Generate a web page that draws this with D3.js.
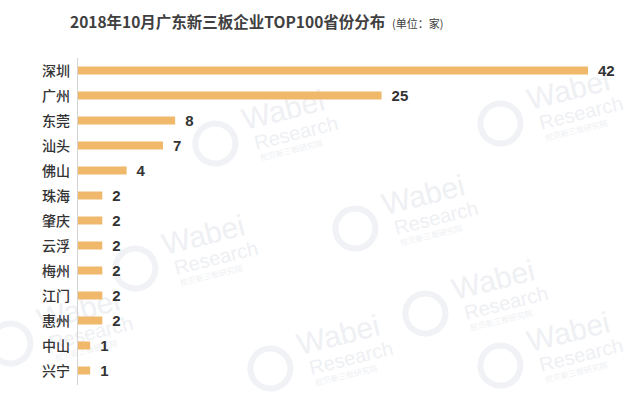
<!DOCTYPE html>
<html>
<head>
<meta charset="utf-8">
<script src="https://cdn.jsdelivr.net/npm/d3@7"></script>
<style>
  body { margin: 0; background: #fff; }
  svg { display: block; font-family: "Noto Sans CJK SC", "Microsoft YaHei", sans-serif; }
</style>
</head>
<body>
<svg width="640" height="399"></svg>
<script>
// data
var cities = ["深圳", "广州", "东莞", "汕头", "佛山", "珠海", "肇庆", "云浮", "梅州", "江门", "惠州", "中山", "兴宁"];
var counts = [42, 25, 8, 7, 4, 2, 2, 2, 2, 2, 2, 1, 1];

var svg = d3.select("svg"),
    width = +svg.attr("width"),
    height = +svg.attr("height");

// faint watermark tiles
var marks = [[245, 130], [385, 215], [165, 255], [455, 300], [530, 110], [300, 355], [530, 352], [40, 330]];
var wm = svg.append("g").attr("class", "watermark");
marks.forEach(function (p) {
    var g = wm.append("g").attr("transform", "translate(" + p[0] + "," + p[1] + ") rotate(-14)");
    g.append("text").attr("x", 0).attr("y", 0).attr("font-family", "Liberation Sans, sans-serif")
        .attr("font-size", 30).attr("fill", "#eef0f3").text("Wabei");
    g.append("text").attr("x", 6).attr("y", 22).attr("font-family", "Liberation Sans, sans-serif")
        .attr("font-size", 20).attr("fill", "#eef0f3").text("Research");
    g.append("text").attr("x", 8).attr("y", 34).attr("font-size", 8).attr("fill", "#eef0f3").text("挖贝新三板研究院");
    g.append("circle").attr("cx", -32).attr("cy", 6).attr("r", 20).attr("fill", "none")
        .attr("stroke", "#f0f2f5").attr("stroke-width", 6);
});

// title
svg.append("text")
    .attr("x", 70)
    .attr("y", 28)
    .attr("fill", "#404040")
    .attr("font-size", 15.5)
    .attr("font-weight", "bold")
    .text("2018年10月广东新三板企业TOP100省份分布");
svg.append("text")
    .attr("x", 392)
    .attr("y", 28)
    .attr("fill", "#404040")
    .attr("font-size", 11)
    .text("(单位：家)");

var margin = {top: 58, left: 77, bottom: 14};

var x = d3.scaleLinear()
    .domain([0, 42])
    .range([margin.left + 1, 588]);

var y = d3.scaleBand()
    .domain(cities)
    .range([margin.top, margin.top + 25 * cities.length])
    .paddingInner(0.68)
    .paddingOuter(0.34);

// axis line
svg.append("line")
    .attr("x1", margin.left + 0.5).attr("x2", margin.left + 0.5)
    .attr("y1", margin.top).attr("y2", height - margin.bottom)
    .attr("stroke", "#d4d4d4");

var rows = cities.map(function (c, i) { return {city: c, value: counts[i]}; });

svg.append("g")
    .attr("class", "bars")
    .selectAll("rect")
    .data(rows)
    .enter()
    .append("rect")
    .attr("x", x(0))
    .attr("y", function (d) { return y(d.city); })
    .attr("width", function (d) { return x(d.value) - x(0); })
    .attr("height", y.bandwidth())
    .attr("fill", "#efb86a");

// category labels
svg.append("g")
    .selectAll("text")
    .data(rows)
    .enter()
    .append("text")
    .attr("x", 70)
    .attr("y", function (d) { return y(d.city) + y.bandwidth() / 2; })
    .attr("dy", "0.36em")
    .attr("text-anchor", "end")
    .attr("font-size", 14)
    .attr("font-weight", 500)
    .attr("fill", "#333")
    .text(function (d) { return d.city; });

// value labels
svg.append("g")
    .selectAll("text")
    .data(rows)
    .enter()
    .append("text")
    .attr("x", function (d) { return x(d.value) + 10; })
    .attr("y", function (d) { return y(d.city) + y.bandwidth() / 2; })
    .attr("dy", "0.36em")
    .attr("font-family", "Liberation Sans, Arial, sans-serif")
    .attr("font-size", 15)
    .attr("font-weight", "bold")
    .attr("fill", "#333")
    .text(function (d) { return d.value; });
</script>
</body>
</html>
